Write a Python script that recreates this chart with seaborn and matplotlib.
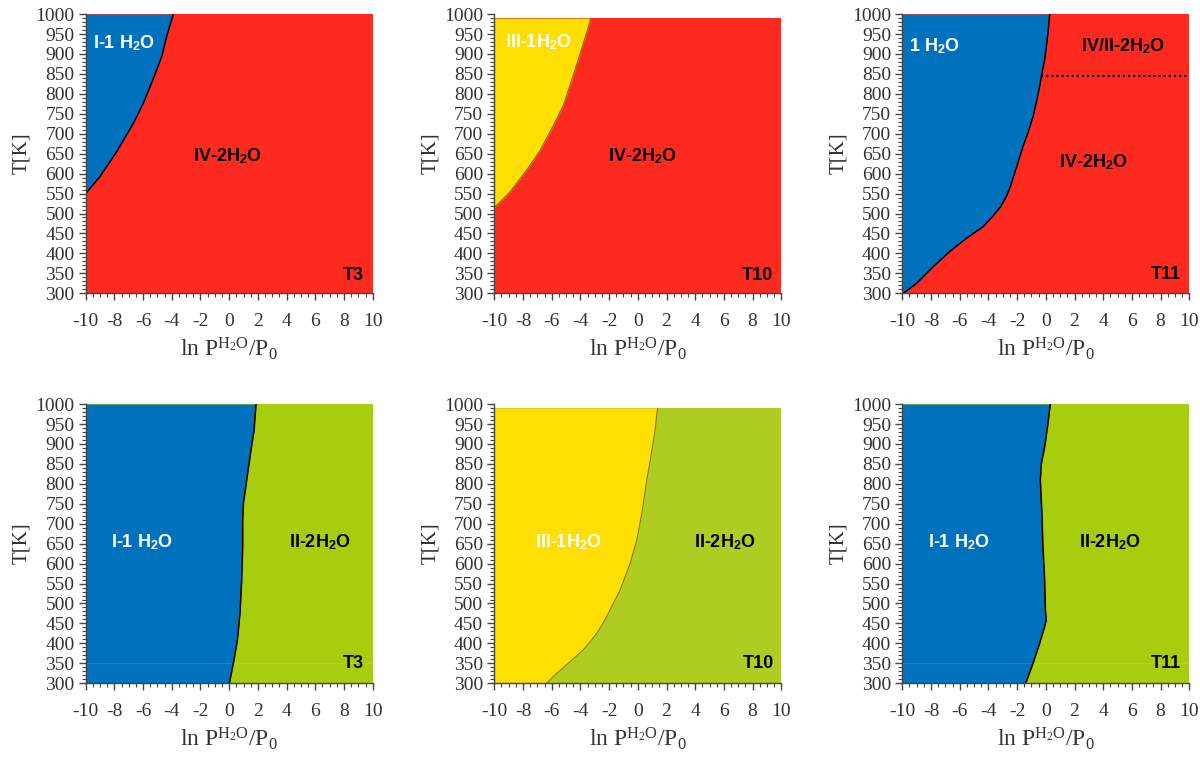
import numpy as np
import matplotlib
matplotlib.use("Agg")
import matplotlib.pyplot as plt
from matplotlib.ticker import MultipleLocator
import seaborn as sns

# ---- phase boundaries: temperature (K) and ln(P_H2O/P0) at the boundary ----
t3_top_T = [550, 593, 655, 726, 777, 839, 894, 944, 1000]
t3_top_x = [-10.0, -9.0, -7.84, -6.68, -5.98, -5.28, -4.70, -4.36, -3.89]

t10_top_T = [515, 554, 609, 658, 721, 771, 847, 914, 968, 990]
t10_top_x = [-10.0, -8.91, -7.74, -6.81, -5.88, -5.19, -4.49, -3.91, -3.44, -3.28]

t11_top_T = [300, 325, 367, 405, 438, 467, 492, 517, 545, 570, 593, 630, 668, 705, 743, 780, 819,
             850, 885, 952, 1000]
t11_top_x = [-9.93, -9.0, -7.84, -6.69, -5.53, -4.37, -3.72, -3.15, -2.72, -2.45, -2.25, -1.92,
             -1.59, -1.22, -0.89, -0.65, -0.43, -0.28, -0.08, 0.15, 0.27]
t11_split_T = 845  # IV / IV-II transition temperature

t3_bot_T = [300, 350, 408, 475, 558, 642, 709, 751, 810, 868, 935, 1000]
t3_bot_x = [0.01, 0.29, 0.57, 0.75, 0.87, 0.94, 0.94, 0.99, 1.22, 1.45, 1.73, 1.87]

t10_bot_T = [300, 325, 354, 384, 405, 425, 455, 484, 534, 601, 659, 726, 810, 868, 935, 977, 990]
t10_bot_x = [-6.35, -5.65, -4.72, -3.79, -3.3, -2.86, -2.35, -1.93, -1.23, -0.53, -0.07, 0.28,
             0.63, 0.91, 1.21, 1.33, 1.40]

t11_bot_T = [300, 350, 400, 442, 458, 484, 559, 642, 726, 810, 851, 893, 951, 1000]
t11_bot_x = [-1.40, -0.89, -0.43, -0.08, 0.03, -0.03, -0.08, -0.20, -0.27, -0.38, -0.31, -0.08, 0.15, 0.31]

x_range = (-10, 10)
T_range = (300, 1000)

BLUE = "#0071bc"
RED = "#ff2a1f"
YELLOW = "#ffdf00"
GREEN = "#a8cd0f"
GREEN2 = "#aecc22"

sns.set_theme(style="ticks")
plt.rcParams.update({
    "font.family": ["Liberation Serif", "DejaVu Serif"],
    "mathtext.fontset": "custom",
    "mathtext.rm": "Liberation Serif",
    "mathtext.it": "Liberation Serif:italic",
    "mathtext.bf": "Liberation Sans:bold",
    "axes.unicode_minus": False,
    "axes.edgecolor": "#444444",
    "xtick.color": "#444444",
    "ytick.color": "#444444",
    "xtick.labelcolor": "#333333",
    "ytick.labelcolor": "#333333",
})

fig = plt.figure(figsize=(12, 7.58), dpi=100)

lefts = [0.0714, 0.4119, 0.7519]
bottoms = [0.6131, 0.0986]
W, H = 0.2392, 0.3683

panels = [
    # (row, col, T, x, left colour, right colour, top T of fill, line colour, labels)
    (0, 0, t3_top_T, t3_top_x, BLUE, RED, 1000, "black",
     [("I-1 H$_{\\mathbf{2}}$O", -7.35, 927, "white", "center"),
      ("IV-2H$_{\\mathbf{2}}$O", -0.1, 643, "black", "center"),
      ("T3", 9.35, 345, "black", "right")]),
    (0, 1, t10_top_T, t10_top_x, YELLOW, RED, 990, "#7a6a10",
     [("III-1H$_{\\mathbf{2}}$O", -6.9, 930, "white", "center"),
      ("IV-2H$_{\\mathbf{2}}$O", 0.33, 645, "black", "center"),
      ("T10", 9.45, 345, "black", "right")]),
    (0, 2, t11_top_T, t11_top_x, BLUE, RED, 1000, "black",
     [("1 H$_{\\mathbf{2}}$O", -7.73, 919, "white", "center"),
      ("IV/II-2H$_{\\mathbf{2}}$O", 5.39, 919, "black", "center"),
      ("IV-2H$_{\\mathbf{2}}$O", 3.33, 630, "black", "center"),
      ("T11", 9.42, 346, "black", "right")]),
    (1, 0, t3_bot_T, t3_bot_x, BLUE, GREEN, 1000, "black",
     [("I-1 H$_{\\mathbf{2}}$O", -6.1, 655, "white", "center"),
      ("II-2H$_{\\mathbf{2}}$O", 6.33, 655, "black", "center"),
      ("T3", 9.35, 350, "black", "right")]),
    (1, 1, t10_bot_T, t10_bot_x, YELLOW, GREEN2, 990, "#7a7a10",
     [("III-1H$_{\\mathbf{2}}$O", -4.8, 655, "white", "center"),
      ("II-2H$_{\\mathbf{2}}$O", 6.05, 655, "black", "center"),
      ("T10", 9.47, 350, "black", "right")]),
    (1, 2, t11_bot_T, t11_bot_x, BLUE, GREEN, 1000, "black",
     [("I-1 H$_{\\mathbf{2}}$O", -6.08, 655, "white", "center"),
      ("II-2H$_{\\mathbf{2}}$O", 4.48, 655, "black", "center"),
      ("T11", 9.42, 350, "black", "right")]),
]

for row, col, T, xb, c_left, c_right, t_top, lc, labels in panels:
    ax = fig.add_axes([lefts[col], bottoms[row], W, H])
    T = np.asarray(T, float)
    xb = np.asarray(xb, float)

    # right-hand phase covers the whole field, left-hand phase sits on top
    ax.fill_betweenx([T_range[0], t_top], x_range[0], x_range[1],
                     color=c_right, lw=0, zorder=1)
    ax.fill_betweenx(T, x_range[0], xb, color=c_left, lw=0, zorder=2)
    sns.lineplot(x=xb, y=T, sort=False, estimator=None, color=lc,
                 lw=1.1 if lc == "black" else 0.8, ax=ax, zorder=3)

    if row == 1 and c_left == BLUE:
        ax.axhline(350, color="white", alpha=0.12, lw=1.0, zorder=2.5)

    if row == 0 and col == 2:
        x_start = float(np.interp(t11_split_T, T, xb))
        ax.plot([x_start, x_range[1]], [t11_split_T, t11_split_T],
                color="black", lw=1.6, linestyle=(0, (1, 1.3)), zorder=3)

    for txt, tx, ty, tc, ha in labels:
        ax.text(tx, ty, txt, color=tc, ha=ha, va="center",
                family="Liberation Sans", fontweight="bold", fontsize=13,
                zorder=4)

    ax.set_xlim(*x_range)
    ax.set_ylim(*T_range)
    ax.xaxis.set_major_locator(MultipleLocator(2))
    ax.xaxis.set_minor_locator(MultipleLocator(0.5))
    ax.yaxis.set_major_locator(MultipleLocator(50))
    ax.yaxis.set_minor_locator(MultipleLocator(10))
    ax.tick_params(which="major", length=5, width=1.0, labelsize=14)
    ax.tick_params(which="minor", length=3, width=0.8)
    ax.tick_params(axis="x", which="major", pad=9)
    ax.tick_params(axis="y", which="major", pad=3)
    for s in ("top", "right"):
        ax.spines[s].set_visible(False)
    for s in ("left", "bottom"):
        ax.spines[s].set_linewidth(1.0)
        ax.spines[s].set_zorder(5)

    ax.set_xlabel(r"ln P$^{\mathrm{H_2O}}$/P$_{\mathrm{0}}$", fontsize=17,
                  color="#333333", labelpad=4)
    ax.set_ylabel("T[K]", fontsize=15, color="#333333", labelpad=3)

fig.savefig("out.png", dpi=100)
